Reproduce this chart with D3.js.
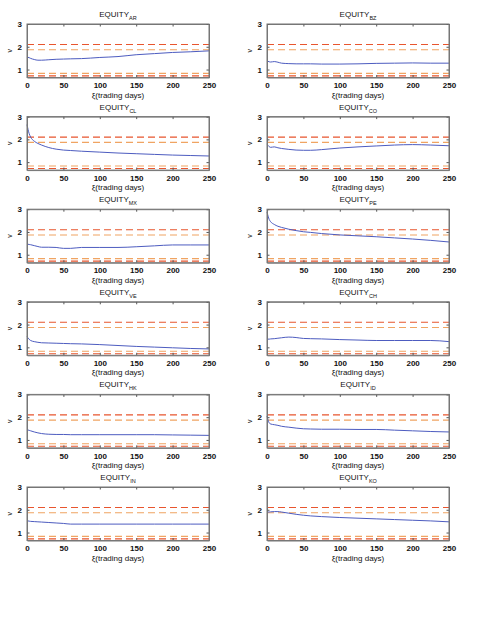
<!DOCTYPE html>
<html>
<head>
<meta charset="utf-8">
<script src="https://cdn.jsdelivr.net/npm/d3@7"></script>
<style>
  body { margin: 0; background: #fff; }
  text { font-family: "Liberation Sans", Arial, sans-serif; fill: #111; }
</style>
</head>
<body>
<svg width="501" height="619"></svg>
<script>
// trading days sampled along each curve
var days = [0, 3, 5, 10, 15, 20, 30, 40, 50, 60, 75, 100, 125, 150, 175, 200, 225, 250];

var AR = [1.55, 1.52, 1.49, 1.44, 1.41, 1.41, 1.43, 1.45, 1.46, 1.47, 1.48, 1.53, 1.57, 1.65, 1.70, 1.75, 1.78, 1.82];
var BZ = [1.38, 1.34, 1.33, 1.35, 1.32, 1.28, 1.26, 1.25, 1.25, 1.25, 1.24, 1.24, 1.25, 1.27, 1.28, 1.29, 1.28, 1.28];
var CL = [2.65, 2.25, 2.10, 1.92, 1.82, 1.75, 1.64, 1.57, 1.53, 1.51, 1.48, 1.44, 1.40, 1.37, 1.34, 1.31, 1.29, 1.27];
var CO = [1.80, 1.68, 1.65, 1.67, 1.63, 1.60, 1.56, 1.53, 1.52, 1.52, 1.55, 1.62, 1.67, 1.71, 1.75, 1.77, 1.75, 1.72];
var MX = [1.47, 1.45, 1.44, 1.40, 1.36, 1.33, 1.33, 1.32, 1.28, 1.28, 1.32, 1.32, 1.32, 1.35, 1.39, 1.43, 1.43, 1.43];
var PE = [2.88, 2.55, 2.45, 2.33, 2.25, 2.20, 2.12, 2.06, 2.01, 1.98, 1.93, 1.87, 1.83, 1.79, 1.74, 1.69, 1.63, 1.56];
var VE = [1.47, 1.35, 1.30, 1.25, 1.22, 1.20, 1.19, 1.18, 1.17, 1.16, 1.15, 1.12, 1.08, 1.04, 1.01, 0.98, 0.95, 0.93];
var CH = [1.36, 1.36, 1.37, 1.38, 1.40, 1.42, 1.45, 1.43, 1.39, 1.38, 1.37, 1.34, 1.32, 1.30, 1.30, 1.30, 1.30, 1.25];
var HK = [1.45, 1.42, 1.40, 1.35, 1.31, 1.28, 1.25, 1.24, 1.24, 1.23, 1.23, 1.23, 1.23, 1.23, 1.23, 1.22, 1.21, 1.20];
var ID = [2.05, 1.75, 1.70, 1.67, 1.64, 1.60, 1.56, 1.52, 1.49, 1.48, 1.47, 1.47, 1.46, 1.46, 1.43, 1.40, 1.37, 1.35];
var IN = [1.52, 1.50, 1.49, 1.48, 1.47, 1.46, 1.44, 1.42, 1.40, 1.37, 1.37, 1.37, 1.37, 1.37, 1.37, 1.37, 1.37, 1.37];
var KO = [1.90, 1.90, 1.91, 1.92, 1.92, 1.90, 1.85, 1.80, 1.76, 1.73, 1.70, 1.66, 1.63, 1.60, 1.57, 1.54, 1.51, 1.47];

var markets = ["AR", "BZ", "CL", "CO", "MX", "PE", "VE", "CH", "HK", "ID", "IN", "KO"];
var series = [AR, BZ, CL, CO, MX, PE, VE, CH, HK, ID, IN, KO];

// dashed reference bands
var outerBands = [2.1, 0.72];
var innerBands = [1.87, 0.83];

var xTicks = [0, 50, 100, 150, 200, 250];
var yTicks = [1, 2, 3];

var svg = d3.select("svg");
var colLeft = [27, 267];
var plotW = 182;
var plotH = 53.5;
var rowTop = function (i) { return 24 + i * 92.6; };

var x = d3.scaleLinear().domain([0, 250]).range([0, plotW]);
var y = d3.scaleLinear().domain([0.65, 3]).range([plotH, 0]);

var line = d3.line()
    .x(function (d) { return x(d[0]); })
    .y(function (d) { return y(d[1]); })
    .curve(d3.curveMonotoneX);

markets.forEach(function (m, i) {
    var g = svg.append("g")
        .attr("transform", "translate(" + colLeft[i % 2] + "," + rowTop(Math.floor(i / 2)) + ")");

    // bands
    g.selectAll(".outer").data(outerBands).enter().append("line")
        .attr("x1", 0).attr("x2", plotW)
        .attr("y1", function (d) { return y(d); }).attr("y2", function (d) { return y(d); })
        .attr("stroke", "#e8552e").attr("stroke-width", 1.1)
        .attr("stroke-dasharray", "7,4");
    g.selectAll(".inner").data(innerBands).enter().append("line")
        .attr("x1", 0).attr("x2", plotW)
        .attr("y1", function (d) { return y(d); }).attr("y2", function (d) { return y(d); })
        .attr("stroke", "#f0a462").attr("stroke-width", 1.1)
        .attr("stroke-dasharray", "7,4");

    // series
    g.append("path")
        .datum(days.map(function (d, k) { return [d, series[i][k]]; }))
        .attr("d", line)
        .attr("fill", "none")
        .attr("stroke", "#4d5cc0")
        .attr("stroke-width", 1);

    // axes with inward ticks, mirrored
    g.append("g").attr("transform", "translate(0," + plotH + ")")
        .call(d3.axisBottom(x).tickValues(xTicks).tickSizeInner(-2.5).tickSizeOuter(0).tickPadding(5));
    g.append("g")
        .call(d3.axisTop(x).tickValues(xTicks).tickSizeInner(-2.5).tickSizeOuter(0).tickFormat(""));
    g.append("g")
        .call(d3.axisLeft(y).tickValues(yTicks).tickSizeInner(-2.5).tickSizeOuter(0).tickPadding(5)
            .tickFormat(d3.format("d")));
    g.append("g").attr("transform", "translate(" + plotW + ",0)")
        .call(d3.axisRight(y).tickValues(yTicks).tickSizeInner(-2.5).tickSizeOuter(0).tickFormat(""));

    g.selectAll(".domain").attr("stroke", "#777");
    g.selectAll(".tick line").attr("stroke", "#555");
    g.selectAll(".tick text")
        .style("font-family", "'Liberation Sans', Arial, sans-serif")
        .style("font-size", "8px").style("font-weight", "bold").attr("fill", "#222");

    // box
    g.append("rect").attr("width", plotW).attr("height", plotH)
        .attr("fill", "none").attr("stroke", "#777").attr("stroke-width", 1);

    // title with subscript
    var t = g.append("text").attr("x", plotW / 2).attr("y", -7)
        .attr("text-anchor", "middle").style("font-size", "8px");
    t.append("tspan").text("EQUITY");
    t.append("tspan").attr("dy", 3).style("font-size", "5.5px").text(m);

    // axis labels
    g.append("text").attr("x", plotW / 2).attr("y", plotH + 20)
        .attr("text-anchor", "middle").style("font-size", "8px").text("\u03be(trading days)");
    g.append("text").attr("transform", "translate(-15," + (plotH / 2) + ") rotate(-90)")
        .attr("text-anchor", "middle").style("font-size", "7px").text("v");
});
</script>
</body>
</html>
